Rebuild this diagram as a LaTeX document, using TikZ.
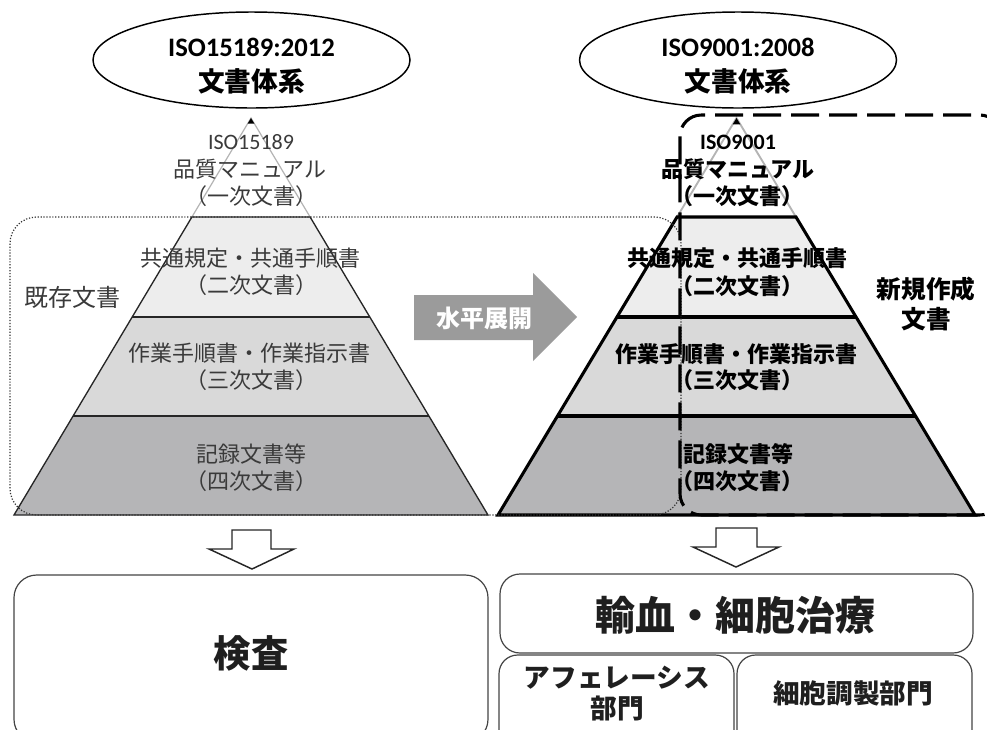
\documentclass[tikz,border=0pt]{standalone}
\usepackage{fontspec}
\newfontfamily\jp{Noto Sans CJK JP}
\newfontfamily\lat{Carlito}
\usetikzlibrary{calc,shapes.geometric}
\definecolor{secA}{HTML}{EDEDED}
\definecolor{secB}{HTML}{D9D9D9}
\definecolor{secC}{HTML}{B5B5B7}
\definecolor{arrowgray}{HTML}{9B9B9B}
\definecolor{txtgray}{HTML}{3A3A3A}
\definecolor{topgray}{HTML}{B4B4B4}
\definecolor{boxline}{HTML}{444444}
\begin{document}
\begin{tikzpicture}[x=0.75pt,y=-0.75pt,
  basetxt/.style={inner sep=0pt, anchor=center},
  elltxt/.style={basetxt, font=\lat\bfseries\fontsize{20}{24}\selectfont, text height=17.6pt, text depth=2.4pt},
  elljp/.style={basetxt, font=\jp\bfseries\fontsize{20}{24}\selectfont, text height=17.6pt, text depth=2.4pt},
  plj/.style={basetxt, font=\jp\fontsize{16.5}{20}\selectfont, text height=14.5pt, text depth=2pt, text=txtgray},
  pll/.style={plj, font=\lat\fontsize{16.5}{20}\selectfont},
  prj/.style={basetxt, font=\jp\bfseries\fontsize{16.5}{20}\selectfont, text height=14.5pt, text depth=2pt},
  prl/.style={prj, font=\lat\bfseries\fontsize{16.5}{20}\selectfont},
  sidej/.style={basetxt, font=\jp\fontsize{18}{22}\selectfont, text height=15.84pt, text depth=2.16pt, text=txtgray},
  sidejb/.style={basetxt, font=\jp\bfseries\fontsize{18.5}{22}\selectfont, text height=16.3pt, text depth=2.2pt},
  boxj/.style={basetxt, font=\jp\bfseries\fontsize{20}{24}\selectfont, text height=17.6pt, text depth=2.4pt, text=black!88},
  ellshape/.style={draw, line width=1.1pt, ellipse, inner sep=0pt, minimum width=237.75pt, minimum height=72pt},
  dotline/.style={line width=0.9pt, dash pattern=on 0.9pt off 1.3pt, black!80},
  dashline/.style={line width=2.3pt, dash pattern=on 21pt off 7.5pt, black},
  bigbox/.style={draw=boxline, line width=0.9pt},
  hollowarrow/.style={draw=black!85, line width=1.1pt, fill=white, line join=miter}
]
\useasboundingbox (0,0) rectangle (987,729);

% ---------- ellipses ----------
\node[ellshape] (ellL) at (251.5,60) {};
\node[ellshape] (ellR) at (738,60) {};
\node[elltxt] (ellLt1) at (251.5,46) {ISO15189:2012};
\node[elljp]  (ellLt2) at (251.5,81) {文書体系};
\node[elltxt] (ellRt1) at (738,46) {ISO9001:2008};
\node[elljp]  (ellRt2) at (738,81) {文書体系};

% ---------- left pyramid ----------
\coordinate (LA) at (251,118);
\coordinate (LBL) at (14,515);
\coordinate (LBR) at (488,515);
\coordinate (L1l) at ($(LA)!0.2494!(LBL)$);
\coordinate (L1r) at ($(LA)!0.2494!(LBR)$);
\coordinate (L2l) at ($(LA)!0.5013!(LBL)$);
\coordinate (L2r) at ($(LA)!0.5013!(LBR)$);
\coordinate (L3l) at ($(LA)!0.7506!(LBL)$);
\coordinate (L3r) at ($(LA)!0.7506!(LBR)$);
\fill[white] (LA) -- (L1l) -- (L1r) -- cycle;
\fill[secA] (L1l) -- (L2l) -- (L2r) -- (L1r) -- cycle;
\fill[secB] (L2l) -- (L3l) -- (L3r) -- (L2r) -- cycle;
\fill[secC] (L3l) -- (LBL) -- (LBR) -- (L3r) -- cycle;
\draw[topgray, line width=0.9pt] (L1l) -- (LA) -- (L1r);
\draw[black!85, line width=1pt, line join=miter] (L1l) -- (LBL) -- (LBR) -- (L1r) -- cycle;
\draw[black!85, line width=1pt] (L2l) -- (L2r) (L3l) -- (L3r);
\fill[black] (LA) -- ($(LA)!0.014!(LBL)$) -- ($(LA)!0.014!(LBR)$) -- cycle;

% ---------- right pyramid ----------
\coordinate (RA) at (736.5,118);
\coordinate (RBL) at (498,515);
\coordinate (RBR) at (975,515);
\coordinate (R1l) at ($(RA)!0.2494!(RBL)$);
\coordinate (R1r) at ($(RA)!0.2494!(RBR)$);
\coordinate (R2l) at ($(RA)!0.5013!(RBL)$);
\coordinate (R2r) at ($(RA)!0.5013!(RBR)$);
\coordinate (R3l) at ($(RA)!0.7506!(RBL)$);
\coordinate (R3r) at ($(RA)!0.7506!(RBR)$);
\fill[white] (RA) -- (R1l) -- (R1r) -- cycle;
\fill[secA] (R1l) -- (R2l) -- (R2r) -- (R1r) -- cycle;
\fill[secB] (R2l) -- (R3l) -- (R3r) -- (R2r) -- cycle;
\fill[secC] (R3l) -- (RBL) -- (RBR) -- (R3r) -- cycle;
\draw[topgray, line width=1.4pt] (R1l) -- (RA) -- (R1r);
\draw[black, line width=2.3pt, line join=miter] (R1l) -- (RBL) -- (RBR) -- (R1r) -- cycle;
\draw[black, line width=2.3pt] (R2l) -- (R2r) (R3l) -- (R3r);
\fill[black] (RA) -- ($(RA)!0.016!(RBL)$) -- ($(RA)!0.016!(RBR)$) -- cycle;

% ---------- left pyramid texts ----------
\node[pll] (lq1) at (251,141) {ISO15189};
\node[plj] (lq2) at (250,169) {品質マニュアル};
\node[plj] (lq3) at (251,196) {（一次文書）};
\node[plj] (lc1) at (250,258) {共通規定・共通手順書};
\node[plj] (lc2) at (251,285) {（二次文書）};
\node[plj] (lw1) at (249,353) {作業手順書・作業指示書};
\node[plj] (lw2) at (251,380) {（三次文書）};
\node[plj] (lr1) at (251,454) {記録文書等};
\node[plj] (lr2) at (251,481) {（四次文書）};

% ---------- right pyramid texts ----------
\node[prl] (rq1) at (738,141) {ISO9001};
\node[prj] (rq2) at (738,169) {品質マニュアル};
\node[prj] (rq3) at (737,196) {（一次文書）};
\node[prj] (rc1) at (737,258) {共通規定・共通手順書};
\node[prj] (rc2) at (737,286) {（二次文書）};
\node[prj] (rw1) at (736,354) {作業手順書・作業指示書};
\node[prj] (rw2) at (737,380) {（三次文書）};
\node[prj] (rr1) at (738,454) {記録文書等};
\node[prj] (rr2) at (737,481) {（四次文書）};

% ---------- side labels ----------
\node[sidej] (kizon) at (72,297) {既存文書};
\node[sidejb] (shinki1) at (926,289) {新規作成};
\node[sidejb] (shinki2) at (926,319) {文書};

% ---------- dotted / dashed frames ----------
\draw[dotline, rounded corners=20pt] (10,217) rectangle (681,515);
\draw[dashline, rounded corners=16pt] (680,115) rectangle (1001,515);

% ---------- horizontal gray arrow ----------
\fill[arrowgray] (414,295) -- (533,295) -- (533,273) -- (577,317) -- (533,361) -- (533,340) -- (414,340) -- cycle;
\node[basetxt, font=\jp\bfseries\fontsize{18}{22}\selectfont, text height=15.84pt, text depth=2.16pt, text=white] (suihei) at (484,318) {水平展開};

% ---------- down arrows ----------
\draw[hollowarrow] (232,530) -- (271,530) -- (271,549) -- (294,549) -- (252,569) -- (209,549) -- (232,549) -- cycle;
\draw[hollowarrow] (716,528) -- (757,528) -- (757,547) -- (779,547) -- (736,567) -- (693,547) -- (716,547) -- cycle;

% ---------- bottom boxes ----------
\draw[bigbox, rounded corners=17pt] (14,575) rectangle (488,742);
\draw[bigbox, rounded corners=15pt] (500,574) rectangle (973,653);
\draw[bigbox, rounded corners=14pt] (499,655) rectangle (734,748);
\draw[bigbox, rounded corners=14pt] (737,655) rectangle (972,748);

\node[basetxt, font=\jp\bfseries\fontsize{28}{32}\selectfont, text height=24.64pt, text depth=3.36pt, text=black!88] (kensa) at (251,653) {検査};
\node[basetxt, font=\jp\bfseries\fontsize{30}{34}\selectfont, text height=26.4pt, text depth=3.6pt, text=black!88] (yuketsu) at (735,615) {輸血・細胞治療};
\node[boxj] (aph1) at (617,677) {アフェレーシス};
\node[boxj] (aph2) at (617,708) {部門};
\node[boxj] (saibo) at (853,693) {細胞調製部門};
\end{tikzpicture}
\end{document}
